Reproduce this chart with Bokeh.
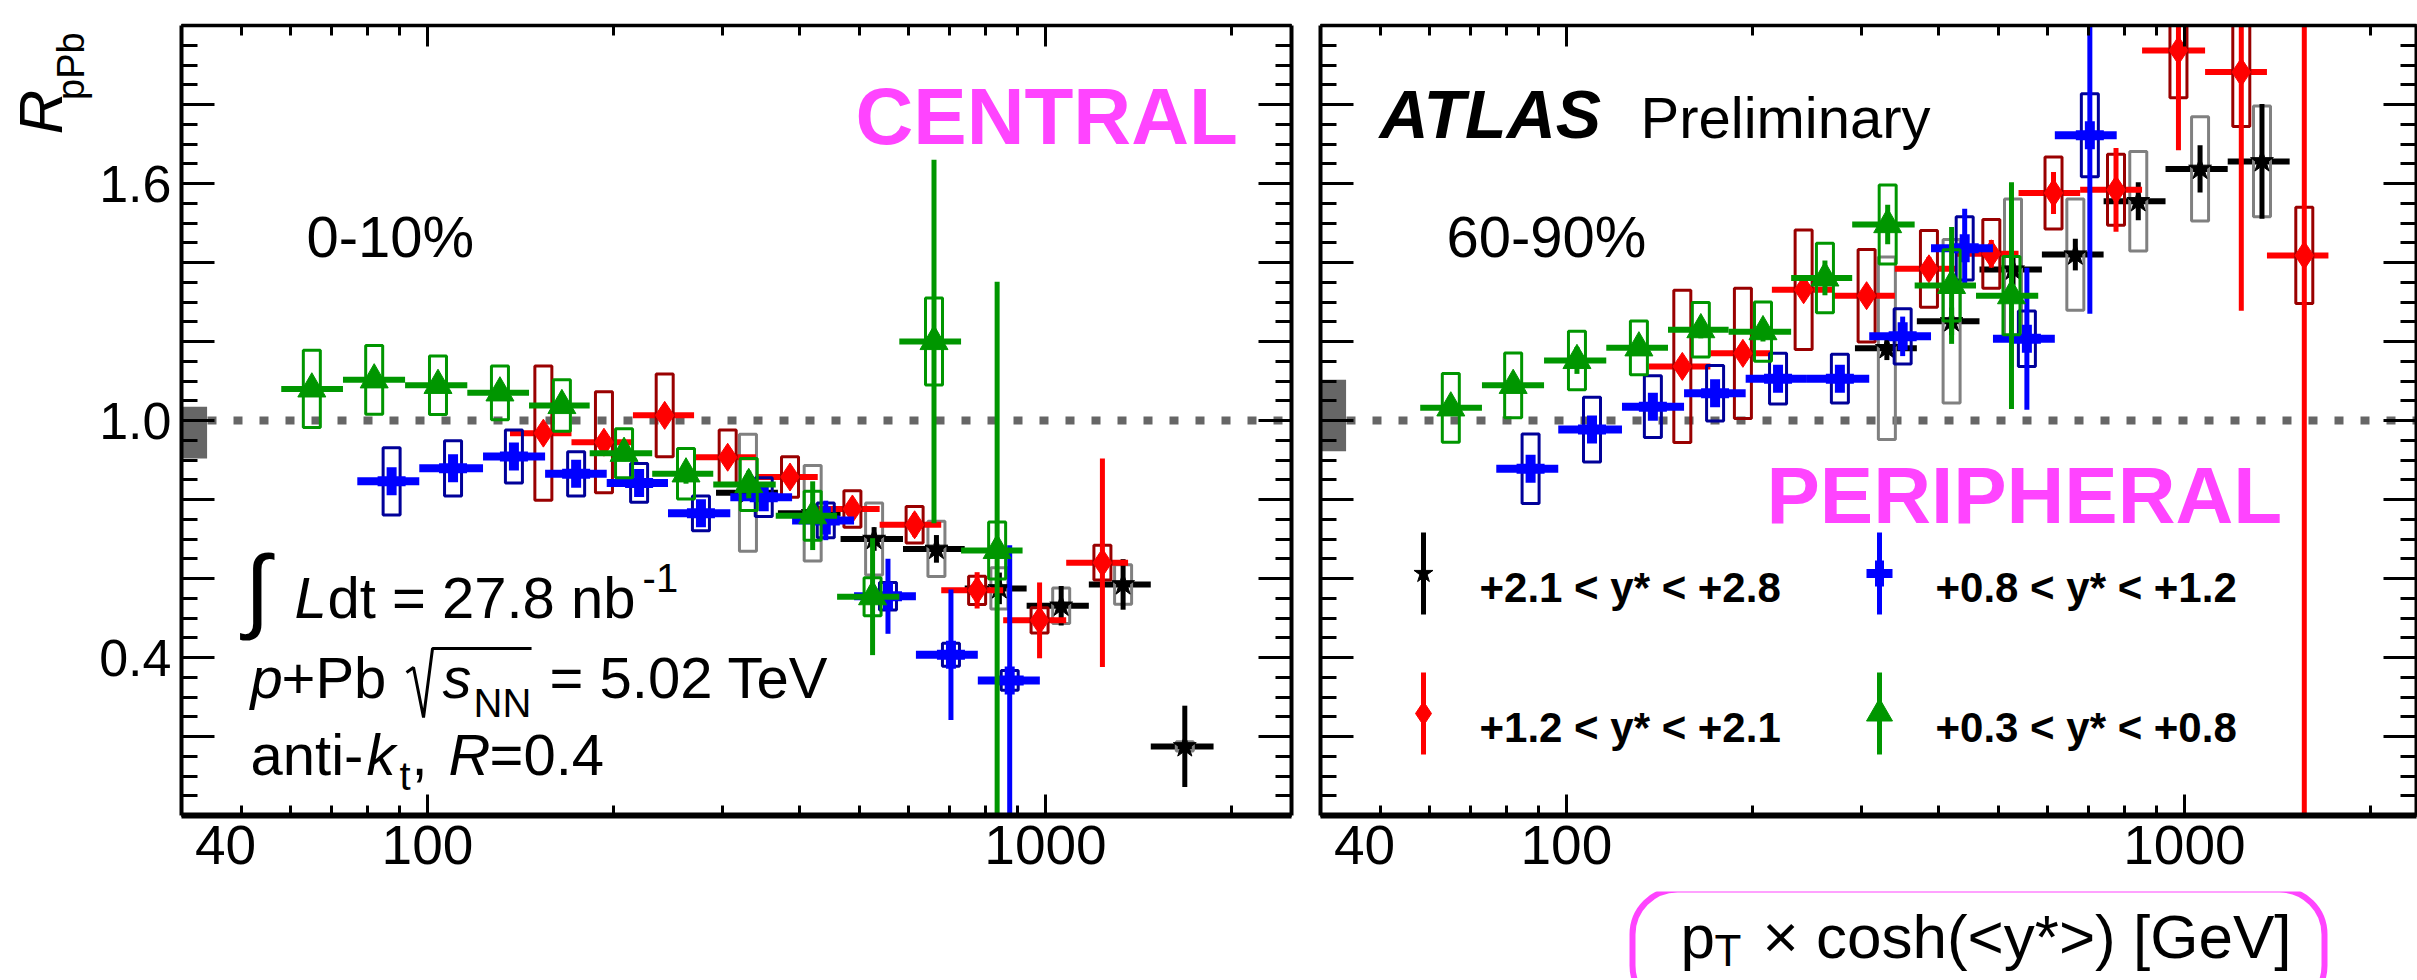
import math
from bokeh.plotting import figure
from bokeh.layouts import row, column
from bokeh.models import (ColumnDataSource, FixedTicker, LogAxis, LinearAxis, Label, Range1d,
                          Span, BoxAnnotation, CustomJSTickFormatter)
from bokeh.embed import file_html
from bokeh.resources import INLINE

# ------------------------------------------------------------------ data
# bins in pT x cosh(<y*>) [GeV] for each rapidity interval
green_edges = [58, 73, 92, 116, 146, 183, 231, 290, 366, 460, 580, 730, 918]
green_x = [65, 82, 104, 131, 165, 208, 262, 331, 420, 525, 660, 835]
blue_edges = [77, 97, 123, 155, 195, 245, 309, 389, 490, 617, 777, 979]
blue_x = [87.5, 110, 138, 174, 220, 277, 350, 441, 556, 703, 875]
red_edges = [136, 171, 215, 270, 340, 428, 539, 678, 854, 1080, 1360, 1710]
red_x = [154, 193, 242, 306, 386, 487, 614, 775, 978, 1236, 1563]
black_edges = [293, 369, 466, 588, 740, 932, 1175, 1480, 1870]
black_x = [330, 420, 528, 666, 842, 1060, 1335, 1680]

# central 0-10%
cen_green_y = [1.080, 1.103, 1.089, 1.070, 1.038, 0.917, 0.865, 0.838, 0.759, 0.554, 1.200, 0.671]
cen_green_stat = [0.010, 0.010, 0.012, 0.014, 0.016, 0.020, 0.025, 0.035, 0.087, 0.148, 0.460, 0.680]
cen_green_syst = [0.098, 0.087, 0.074, 0.068, 0.065, 0.062, 0.064, 0.066, 0.062, 0.048, 0.110, 0.072]

cen_blue_y = [0.846, 0.879, 0.909, 0.865, 0.842, 0.765, 0.806, 0.747, 0.555, 0.407, 0.342]
cen_blue_stat = [0.012, 0.014, 0.016, 0.018, 0.020, 0.025, 0.030, 0.050, 0.095, 0.165, 0.342]
cen_blue_syst = [0.085, 0.070, 0.067, 0.056, 0.049, 0.044, 0.049, 0.044, 0.035, 0.029, 0.025]

cen_red_y = [0.968, 0.945, 1.013, 0.907, 0.857, 0.776, 0.736, 0.570, 0.494, 0.640]
cen_red_stat = [0.015, 0.015, 0.018, 0.020, 0.022, 0.026, 0.030, 0.046, 0.096, 0.264]
cen_red_syst = [0.170, 0.128, 0.105, 0.069, 0.051, 0.046, 0.046, 0.036, 0.032, 0.044]

cen_black_y = [0.817, 0.765, 0.700, 0.675, 0.575, 0.531, 0.585, 0.175]
cen_black_stat = [0.020, 0.025, 0.030, 0.035, 0.040, 0.050, 0.064, 0.103]
cen_black_syst = [0.148, 0.121, 0.091, 0.070, 0.052, 0.045, 0.050, 0.012]

# peripheral 60-90%
per_green_y = [1.032, 1.089, 1.152, 1.184, 1.230, 1.225, 1.361, 1.496, 1.342, 1.316]
per_green_stat = [0.012, 0.015, 0.034, 0.020, 0.022, 0.025, 0.044, 0.050, 0.148, 0.287]
per_green_syst = [0.087, 0.082, 0.074, 0.068, 0.069, 0.075, 0.088, 0.100, 0.090, 0.099]

per_blue_y = [0.878, 0.977, 1.035, 1.069, 1.106, 1.106, 1.213, 1.436, 1.207, 1.722]
per_blue_stat = [0.015, 0.015, 0.020, 0.020, 0.022, 0.025, 0.050, 0.100, 0.180, 0.452]
per_blue_syst = [0.088, 0.082, 0.078, 0.070, 0.064, 0.062, 0.070, 0.080, 0.070, 0.105]

per_red_y = [1.137, 1.170, 1.331, 1.316, 1.384, 1.422, 1.576, 1.584, 1.937, 1.882, 1.418]
per_red_stat = [0.020, 0.020, 0.025, 0.025, 0.030, 0.035, 0.053, 0.106, 0.253, 0.604, 1.450]
per_red_syst = [0.193, 0.165, 0.151, 0.117, 0.097, 0.087, 0.091, 0.090, 0.120, 0.138, 0.122]

per_black_y = [1.183, 1.251, 1.382, 1.420, 1.555, 1.637, 1.656]
per_black_stat = [0.030, 0.035, 0.040, 0.040, 0.048, 0.060, 0.145]
per_black_syst = [0.231, 0.207, 0.179, 0.141, 0.126, 0.132, 0.140]

# global normalisation uncertainty boxes at unity  [central, peripheral]
norm_lo = [0.904, 0.922]
norm_hi = [1.035, 1.103]
norm_x = [40, 44]

# axes
x_major_ticks = [100, 1000]
x_minor_ticks = [50, 60, 70, 80, 90, 200, 300, 400, 500, 600, 700, 800, 900, 2000]
x_tick_labels = ["40", "100", "1000"]
y_major_ticks = [0.0, 0.2, 0.4, 0.6, 0.8, 1.0, 1.2, 1.4, 1.6, 1.8, 2.0]
y_minor_ticks = [round(0.05 * k, 2) for k in range(41)]
y_tick_labels = {0.4: "0.4", 1.0: "1.0", 1.6: "1.6"}

legend_labels = ["+2.1 < y* < +2.8", "+0.8 < y* < +1.2", "+1.2 < y* < +2.1", "+0.3 < y* < +0.8"]

# ------------------------------------------------------------------ style / layout
FONT = "Liberation Sans"
GREEN, RED, BLUE, BLACK = "#009600", "#ff0000", "#0000ff", "#000000"
GREEN_BOX, RED_BOX, BLUE_BOX, BLACK_BOX = "#009600", "#990000", "#000099", "#808080"
MAGENTA = "#ff44ff"
K_BASE = 0.36          # baseline correction for Label text (fraction of font size)

FRAME_H = 790
TOP = 25
BOTTOM = 76
PANEL_H = TOP + FRAME_H + BOTTOM
STRIP_W = 96
TOTAL_W = 2416
TITLE_H = 87
PX_DEC = 618.0
LOG40 = math.log10(40)
LEFT_X0, RIGHT_X0 = 179, 1318
LEFT_W, RIGHT_W = 1110, 1096


def xv(px, x0):
    """page pixel column -> data x for a panel whose frame starts at x0"""
    return 10 ** (LOG40 + (px - x0) / PX_DEC)


def yv(py):
    """page pixel row -> data y inside a panel"""
    return (TOP + FRAME_H - py) / (FRAME_H / 2.0)


def style_axis(ax, major_len, minor_len, line_w, blank, font_px=55):
    ax.major_tick_in = major_len
    ax.major_tick_out = 0
    ax.minor_tick_in = minor_len
    ax.minor_tick_out = 0
    ax.major_tick_line_width = 3
    ax.minor_tick_line_width = 3
    ax.major_tick_line_color = "black"
    ax.minor_tick_line_color = "black"
    ax.axis_line_width = line_w
    ax.axis_line_color = "black"
    if blank:
        ax.formatter = CustomJSTickFormatter(code="return ''")
        ax.major_label_text_font_size = "1px"
        ax.major_label_standoff = 0
    else:
        ax.major_label_text_font = FONT
        ax.major_label_text_font_size = f"{font_px}px"
        ax.major_label_text_color = "black"


def make_panel(xmax, frame_w, mb_left, mb_right, ylabels, x0):
    p = figure(x_axis_type="log", x_range=(40, xmax), y_range=(0, 2),
               frame_width=frame_w, frame_height=FRAME_H,
               min_border_left=mb_left, min_border_right=mb_right,
               min_border_top=TOP, min_border_bottom=BOTTOM,
               output_backend="svg", toolbar_location=None)
    p.grid.visible = False
    p.outline_line_color = None
    p.background_fill_color = "white"
    p.border_fill_color = "white"

    xt = FixedTicker(ticks=x_major_ticks, minor_ticks=x_minor_ticks)
    yt = FixedTicker(ticks=y_major_ticks, minor_ticks=y_minor_ticks)

    # bottom: tick marks on the frame, labels on a second axis just below
    xb = p.xaxis[0]
    xb.ticker = xt
    style_axis(xb, 21, 10, 6, True)

    label_pos = [xv(x0 + 44, x0), 100, 1000]
    xl = LogAxis(ticker=FixedTicker(ticks=label_pos, minor_ticks=[]))
    xl.axis_line_color = None
    xl.major_tick_line_color = None
    xl.minor_tick_line_color = None
    xl.major_tick_in = 0
    xl.major_tick_out = 0
    xl.minor_tick_in = 0
    xl.minor_tick_out = 0
    xl.major_label_overrides = dict(zip(label_pos, x_tick_labels))
    xl.major_label_text_font = FONT
    xl.major_label_text_font_size = "55px"
    xl.major_label_text_color = "black"
    xl.major_label_standoff = 10
    p.add_layout(xl, "below")

    yl = p.yaxis[0]
    yl.ticker = yt
    style_axis(yl, 33, 16, 4, not ylabels, font_px=52)
    if ylabels:
        yl.major_label_overrides = {t: y_tick_labels.get(t, "") for t in y_major_ticks}
        yl.major_label_standoff = 10

    top = LogAxis(ticker=xt)
    style_axis(top, 21, 10, 3.5, True)
    p.add_layout(top, "above")
    right = LinearAxis(ticker=yt)
    style_axis(right, 33, 16, 4, True)
    p.add_layout(right, "right")

    line1 = Span(location=1.0, dimension="width", line_color="#666666",
                 line_width=8, line_dash="9 17", level="underlay")
    p.add_layout(line1)
    return p


def make_strip(w, h, y_top):
    """plain canvas whose data coordinates are page pixels"""
    s = figure(width=w, height=h, x_range=Range1d(0, w), y_range=Range1d(y_top + h, y_top),
               min_border=0, x_axis_location=None, y_axis_location=None,
               output_backend="svg", toolbar_location=None)
    s.outline_line_color = None
    s.grid.visible = False
    s.background_fill_color = "white"
    s.border_fill_color = "white"
    return s


def draw_series(p, xs, edges, ys, stat, syst, color, box_color, marker, msize, mlw, bar_w):
    n = len(ys)
    src = ColumnDataSource(dict(
        x=xs[:n], lo=edges[:n], hi=edges[1:n + 1], y=ys,
        y0=[a - b for a, b in zip(ys, stat)], y1=[a + b for a, b in zip(ys, stat)],
        h=[2 * s for s in syst]))
    p.segment(x0="lo", y0="y", x1="hi", y1="y", line_color=color, line_width=bar_w, source=src)
    p.rect(x="x", y="y", width=17, height="h", width_units="screen", fill_color=None,
           line_color=box_color, line_width=3, source=src)
    p.segment(x0="x", y0="y0", x1="x", y1="y1", line_color=color, line_width=5, source=src)
    p.scatter(x="x", y="y", marker=marker, size=msize, fill_color=color, line_color=color,
              line_width=mlw, source=src)


def txt(p, x, y, text, size, style="normal", color="black", angle=0.0, align="left"):
    p.add_layout(Label(x=x, y=y, text=text, text_font=FONT, text_font_size=f"{size}px",
                       text_font_style=style, text_color=color, angle=angle,
                       text_align=align, text_baseline="alphabetic"))


def ptxt(p, px, py, text, size, **kw):
    """text in a panel, px/py = page pixel position of the baseline start"""
    txt(p, px, yv(py - K_BASE * size), text, size, **kw)


# ------------------------------------------------------------------ left strip (y title)
fr = make_strip(STRIP_W, PANEL_H, 0)
txt(fr, 62 - K_BASE * 62, 123, "R", 62, style="italic", angle=math.pi / 2)
txt(fr, 84 - K_BASE * 38, 84, "pPb", 38, angle=math.pi / 2)

# ------------------------------------------------------------------ left panel (central)
pl = make_panel(2500, LEFT_W, LEFT_X0 - STRIP_W, 14, True, LEFT_X0)
pl.quad(left=[norm_x[0]], right=[norm_x[1]], bottom=[norm_lo[0]], top=[norm_hi[0]],
        fill_color="#666666", line_color=None)
draw_series(pl, black_x, black_edges, cen_black_y, cen_black_stat, cen_black_syst, BLACK, BLACK_BOX, "star", 24, 1, 6)
draw_series(pl, red_x, red_edges, cen_red_y, cen_red_stat, cen_red_syst, RED, RED_BOX, "diamond", 28, 1, 6)
draw_series(pl, blue_x, blue_edges, cen_blue_y, cen_blue_stat, cen_blue_syst, BLUE, BLUE_BOX, "cross", 28, 10, 8)
draw_series(pl, green_x, green_edges, cen_green_y, cen_green_stat, cen_green_syst, GREEN, GREEN_BOX, "triangle", 28, 1, 6)

X = lambda px: xv(px, LEFT_X0)
ptxt(pl, X(853), 145, "CENTRAL", 80, style="bold", color=MAGENTA)
ptxt(pl, X(304), 257, "0-10%", 58)
ptxt(pl, X(242), 622, "\u222b", 93)
ptxt(pl, X(292), 618, "L", 58, style="italic")
ptxt(pl, X(325), 618, "dt = 27.8 nb", 58)
ptxt(pl, X(640), 592, "-1", 40)
ptxt(pl, X(248), 698, "p", 58, style="italic")
ptxt(pl, X(279), 698, "+Pb", 58)
pl.line(x=[X(404), X(411), X(421), X(430), X(529)],
        y=[yv(672), yv(667), yv(717), yv(648), yv(648)], line_color="black", line_width=3)
ptxt(pl, X(440), 698, "s", 58, style="italic")
ptxt(pl, X(471), 717, "NN", 40)
ptxt(pl, X(547), 698, "= 5.02 TeV", 58)
ptxt(pl, X(248), 775, "anti-", 58)
ptxt(pl, X(364), 775, "k", 58, style="italic")
ptxt(pl, X(397), 790, "t", 40)
ptxt(pl, X(409), 775, ",", 58)
ptxt(pl, X(446), 775, "R", 58, style="italic")
ptxt(pl, X(487), 775, "=0.4", 58)

# ------------------------------------------------------------------ right panel (peripheral)
x_end_right = xv(RIGHT_X0 + RIGHT_W, RIGHT_X0)
pr = make_panel(x_end_right, RIGHT_W, 15, 2, False, RIGHT_X0)
pr.quad(left=[norm_x[0]], right=[norm_x[1]], bottom=[norm_lo[1]], top=[norm_hi[1]],
        fill_color="#666666", line_color=None)
draw_series(pr, black_x, black_edges, per_black_y, per_black_stat, per_black_syst, BLACK, BLACK_BOX, "star", 24, 1, 6)
draw_series(pr, red_x, red_edges, per_red_y, per_red_stat, per_red_syst, RED, RED_BOX, "diamond", 28, 1, 6)
draw_series(pr, blue_x, blue_edges, per_blue_y, per_blue_stat, per_blue_syst, BLUE, BLUE_BOX, "cross", 28, 10, 8)
draw_series(pr, green_x, green_edges, per_green_y, per_green_stat, per_green_syst, GREEN, GREEN_BOX, "triangle", 28, 1, 6)

XR = lambda px: xv(px, RIGHT_X0)
ptxt(pr, XR(1377), 138, "ATLAS", 68, style="bold italic")
ptxt(pr, XR(1638), 138, "Preliminary", 58)
ptxt(pr, XR(1444), 257, "60-90%", 58)
ptxt(pr, XR(1764), 524, "PERIPHERAL", 80, style="bold", color=MAGENTA)

# legend (2 x 2), layout in page pixels
leg_cols = [1421, 1877]
leg_rows = [573, 713]
leg_style = [(BLACK, "star", 20, 1), (BLUE, "cross", 26, 9), (RED, "diamond", 24, 1), (GREEN, "triangle", 26, 1)]
for i, (lab, (c, m, s, lw)) in enumerate(zip(legend_labels, leg_style)):
    cx = leg_cols[i % 2]
    cy = leg_rows[i // 2]
    pr.segment(x0=[XR(cx)], y0=[yv(cy - 41)], x1=[XR(cx)], y1=[yv(cy + 41)], line_color=c, line_width=5)
    pr.scatter(x=[XR(cx)], y=[yv(cy)], marker=m, size=s, fill_color=c, line_color=c, line_width=lw)
    ptxt(pr, XR(cx + 56), cy + 29, lab, 42, style="bold")

# ------------------------------------------------------------------ x-axis title strip
fx = make_strip(TOTAL_W, TITLE_H, PANEL_H)
fx.add_layout(BoxAnnotation(left=1632, right=2324, top=889, bottom=1010,
                            fill_color=None, fill_alpha=0, line_color=MAGENTA, line_alpha=1.0,
                            line_width=6, border_radius=45))
txt(fx, 1680, 958 - K_BASE * 62, "p", 62)
txt(fx, 1714, 966 - K_BASE * 44, "T", 44)
txt(fx, 1762, 958 - K_BASE * 62, "\u00d7 cosh(<y*>) [GeV]", 62)

layout = column(row(fr, pl, pr), fx)
open("out.html", "w").write(file_html(layout, INLINE))
